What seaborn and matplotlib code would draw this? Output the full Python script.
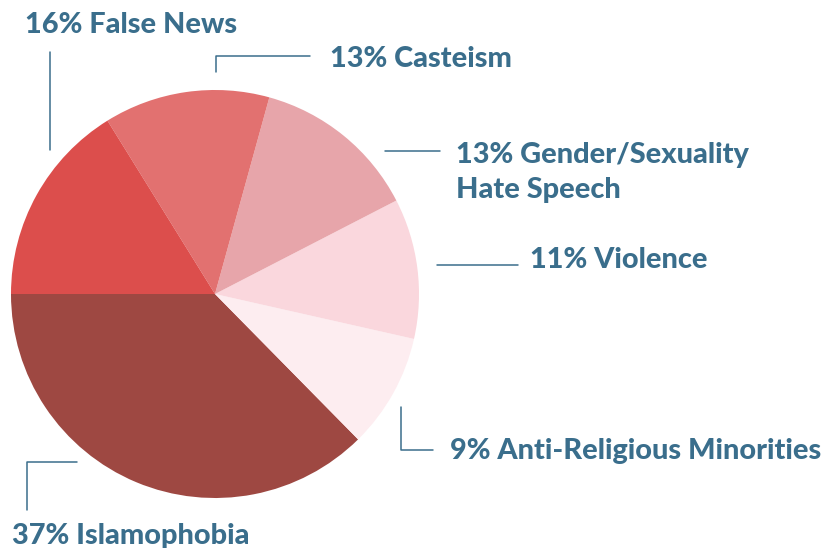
import matplotlib
matplotlib.use('Agg')
import matplotlib.pyplot as plt
import seaborn as sns

# shares, in drawing order (from 9 o'clock, going down)
categories = ['Islamophobia', 'Anti-Religious Minorities', 'Violence',
              'Gender/Sexuality\nHate Speech', 'Casteism', 'False News']
shares = [37, 9, 11, 13, 13, 16]
slice_colors = ['#9e4842', '#fdedf0', '#fad7dd', '#e7a5aa', '#e27170', '#dc4e4c']

TEXT_BLUE = '#3a6e8c'

sns.set_theme(style='white')
plt.rcParams['font.family'] = ['Lato', 'DejaVu Sans']

fig = plt.figure(figsize=(8.25, 5.48), dpi=100)
ax = fig.add_axes([0, 0, 1, 1])

# work in pixel coords, y pointing down
ax.pie(shares, colors=slice_colors, startangle=180, counterclock=False,
       center=(215, 294), radius=204, wedgeprops=dict(linewidth=0))
ax.set_xlim(0, 825)
ax.set_ylim(548, 0)
ax.set_aspect('equal')
ax.axis('off')

# label text position (left, baseline) and leader line points
label_pos = {
    'False News': (25, 33),
    'Casteism': (330, 67),
    'Gender/Sexuality\nHate Speech': (456, 163),
    'Violence': (530, 268),
    'Anti-Religious Minorities': (450, 459),
    'Islamophobia': (12, 544),
}
leaders = {
    'False News': ([50, 50], [52, 150]),
    'Casteism': ([216, 216, 310], [72, 56, 56]),
    'Gender/Sexuality\nHate Speech': ([385, 440], [151, 151]),
    'Violence': ([437, 518], [265, 265]),
    'Anti-Religious Minorities': ([401, 401, 433], [407, 450, 450]),
    'Islamophobia': ([77, 27, 27], [462, 462, 510]),
}

for cat, val in zip(categories, shares):
    x, y = label_pos[cat]
    lines = f'{val}% {cat}'.split('\n')
    for i, line in enumerate(lines):
        ax.text(x, y + i * 35, line, ha='left', va='baseline',
                fontsize=20.8, fontweight=900, color=TEXT_BLUE)
    lx, ly = leaders[cat]
    ax.plot(lx, ly, color=TEXT_BLUE, lw=1.1)

fig.savefig('out.png', dpi=100)
